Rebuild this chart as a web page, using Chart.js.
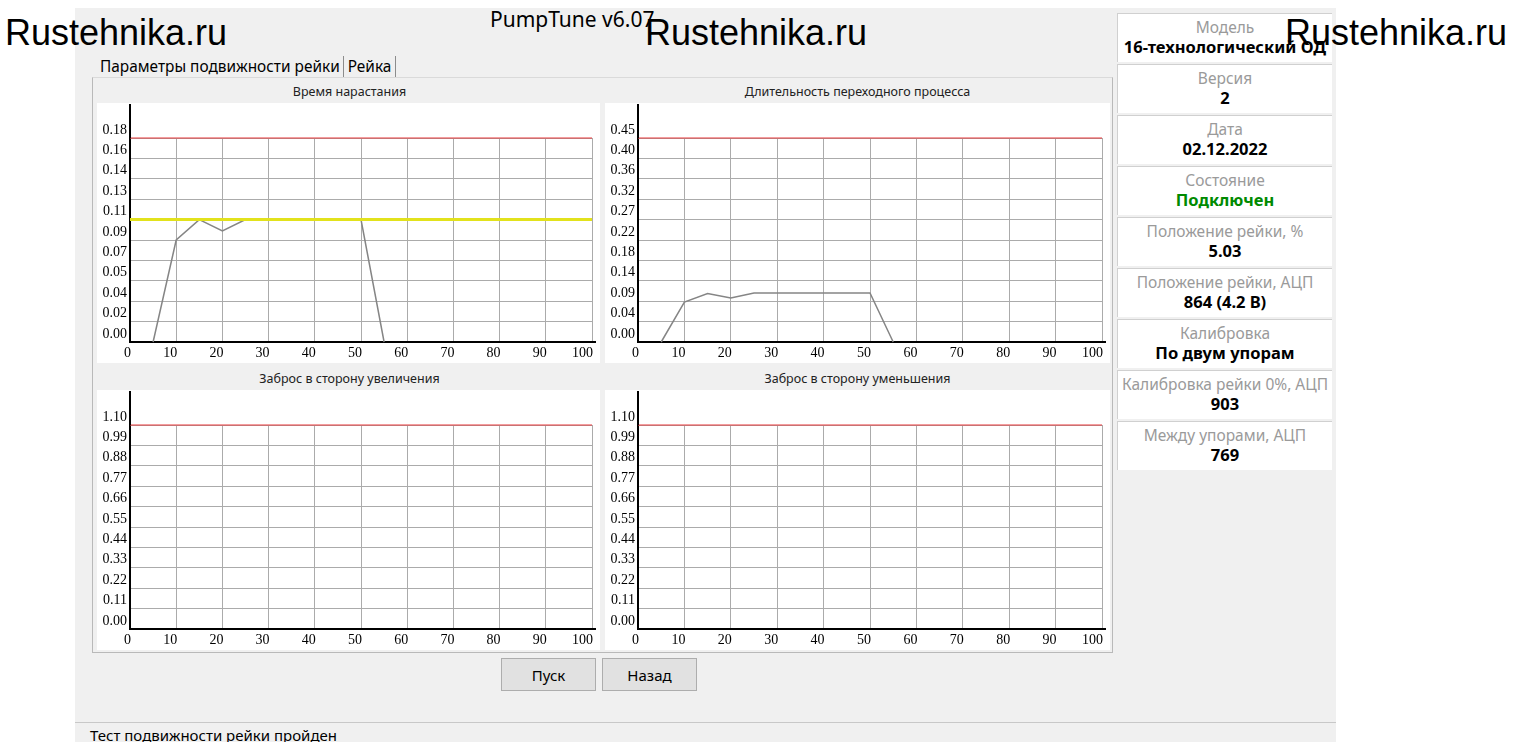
<!DOCTYPE html>
<html lang="ru">
<head>
<meta charset="utf-8">
<title>PumpTune v6.07</title>
<script src="https://cdn.jsdelivr.net/npm/chart.js@4.4.1/dist/chart.umd.min.js"></script>
<style>
  body { margin: 0; width: 1529px; height: 742px; background: #fff; position: relative; overflow: hidden;
         font-family: 'Noto Sans', sans-serif; color: #000; }
  .abs { position: absolute; }
  .app { left: 75px; top: 8px; width: 1261px; height: 734px; background: #f0f0f0; }
  .title { left: 490px; top: 5px; font-size: 21px; white-space: nowrap; }
  .mark { font-family: 'Liberation Sans', Arial, sans-serif; font-size: 36px; line-height: 36px; white-space: nowrap; }
  .tab1 { left: 100px; top: 56px; font-size: 15.4px; white-space: nowrap; }
  .tab2 { left: 343px; top: 56px; width: 51px; height: 21px; border-left: 1px solid #8c8c8c; border-right: 1px solid #8c8c8c;
          font-size: 15.4px; text-align: center; line-height: 21px; }
  .panel { left: 92px; top: 77px; width: 1019px; height: 574px; border: 1px solid #b9b9b9; border-top-color: #dadada; }
  .ctitle { font-size: 12.5px; text-align: center; width: 505px; color: #222; }
  .box { background: #fff; }
  .btn { top: 658px; width: 95px; height: 33px; background: #e1e1e1; border: 1px solid #adadad; font-size: 15px;
         text-align: center; line-height: 32px; box-sizing: border-box; }
  .status { left: 75px; top: 722px; width: 1261px; border-top: 1px solid #c8c8c8; }
  .stext { left: 90px; top: 725px; font-size: 15px; white-space: nowrap; }
  .info { left: 1117px; width: 215px; height: 49px; background: #fff; border-top: 1px solid #d0d0d0; border-left: 1px solid #d0d0d0;
          box-sizing: border-box; text-align: center; overflow: hidden; white-space: nowrap; }
  .info .l { color: #9a9a9a; font-size: 15.5px; line-height: 18px; margin-top: 4px; }
  .info .v { font-weight: bold; font-size: 16.5px; line-height: 22px; }
</style>
</head>
<body>
<div class="abs app"></div>
<div class="abs title">PumpTune v6.07</div>

<div class="abs tab1">Параметры подвижности рейки</div>
<div class="abs tab2">Рейка</div>
<div class="abs panel"></div>

<div class="abs ctitle" style="left:97px;top:83px">Время нарастания</div>
<div class="abs ctitle" style="left:605px;top:83px">Длительность переходного процесса</div>
<div class="abs ctitle" style="left:97px;top:370px">Заброс в сторону увеличения</div>
<div class="abs ctitle" style="left:605px;top:370px">Заброс в сторону уменьшения</div>

<div class="abs box" style="left:97px;top:103px;width:503px;height:260px"><canvas id="riseChart" width="503" height="260"></canvas></div>
<div class="abs box" style="left:605px;top:103px;width:505px;height:260px"><canvas id="settleChart" width="505" height="260"></canvas></div>
<div class="abs box" style="left:97px;top:390px;width:503px;height:260px"><canvas id="overUpChart" width="503" height="260"></canvas></div>
<div class="abs box" style="left:605px;top:390px;width:505px;height:260px"><canvas id="overDownChart" width="505" height="260"></canvas></div>

<div class="abs btn" style="left:501px">Пуск</div>
<div class="abs btn" style="left:602px">Назад</div>

<div class="abs status"></div>
<div class="abs stext">Тест подвижности рейки пройден</div>

<div id="infoPanel"></div>

<div class="abs mark" style="left:5px;top:15px">Rustehnika.ru</div>
<div class="abs mark" style="left:645px;top:15px">Rustehnika.ru</div>
<div class="abs mark" style="left:1285px;top:15px">Rustehnika.ru</div>

<script>
// позиции рейки, %
const positions = [5, 10, 15, 20, 25, 30, 35, 40, 45, 50, 55];
// время нарастания
const riseTime = [0, 0.09, 0.108, 0.098, 0.108, 0.108, 0.108, 0.108, 0.108, 0.108, 0];
// длительность переходного процесса
const settleTime = [0, 0.088, 0.107, 0.097, 0.108, 0.108, 0.108, 0.108, 0.108, 0.108, 0];

const riseTarget = 0.108;
const riseMax = 0.18;
const settleMax = 0.45;
const overMax = 1.10;
const limitX = [0, 100];

const riseTicks = ['0.00', '0.02', '0.04', '0.05', '0.07', '0.09', '0.11', '0.13', '0.14', '0.16', '0.18'];
const settleTicks = ['0.00', '0.04', '0.09', '0.14', '0.18', '0.22', '0.27', '0.32', '0.36', '0.40', '0.45'];
const overTicks = ['0.00', '0.11', '0.22', '0.33', '0.44', '0.55', '0.66', '0.77', '0.88', '0.99', '1.10'];

const infoLabels = ['Модель', 'Версия', 'Дата', 'Состояние', 'Положение рейки, %', 'Положение рейки, АЦП',
    'Калибровка', 'Калибровка рейки 0%, АЦП', 'Между упорами, АЦП'];
const infoValues = ['16-технологический ОД', '2', '02.12.2022', 'Подключен', '5.03', '864 (4.2 В)',
    'По двум упорам', '903', '769'];

// правая панель
document.getElementById('infoPanel').innerHTML = infoLabels.map((l, i) => `
    <div class="abs info" style="top:${13 + i * 51}px">
        <div class="l">${l}</div>
        <div class="v" style="${i === 3 ? 'color:#008a00' : ''}">${infoValues[i]}</div>
    </div>`).join('');

const gridColor = '#ababab';
const tickFont = { family: "'Liberation Serif', 'Times New Roman', serif", size: 14 };

// ось Y уходит выше последней линии сетки
const axisExtend = {
    id: 'axisExtend',
    afterDraw(chart) {
        const { ctx, chartArea, scales } = chart;
        const x0 = scales.x.getPixelForValue(0);
        const y0 = scales.y.getPixelForValue(0);
        ctx.save();
        ctx.strokeStyle = '#000';
        ctx.lineWidth = 2;
        ctx.beginPath();
        ctx.moveTo(x0, chartArea.top - 34);
        ctx.lineTo(x0, chartArea.top);
        ctx.moveTo(chartArea.right, y0);
        ctx.lineTo(chartArea.right + 4, y0);
        ctx.stroke();
        ctx.restore();
    }
};

function toPoints(xs, ys) {
    return xs.map((x, i) => ({ x: x, y: ys[i] }));
}

function criarGrafico(id, yMax, yLabels, series) {
    const datasets = [{
        data: toPoints(limitX, [yMax, yMax]),
        borderColor: '#e8393a',
        borderWidth: 1,
        order: 1
    }];
    series.forEach(s => datasets.push(s));

    new Chart(document.getElementById(id), {
        type: 'line',
        data: { datasets: datasets.map(d => Object.assign({ pointRadius: 0, clip: false, fill: false, tension: 0 }, d)) },
        plugins: [axisExtend],
        options: {
            responsive: false,
            animation: false,
            events: [],
            layout: { padding: { top: 35, right: 8, left: 0, bottom: 0 } },
            plugins: { legend: { display: false }, tooltip: { enabled: false } },
            scales: {
                x: {
                    type: 'linear',
                    min: 0,
                    max: 100,
                    afterFit: s => { s.height = 21; },
                    ticks: { stepSize: 10, align: 'end', labelOffset: 1, padding: 3, maxRotation: 0, autoSkip: false,
                             color: '#000', font: tickFont },
                    grid: { color: gridColor, drawTicks: false },
                    border: { color: '#000', width: 2 }
                },
                y: {
                    type: 'linear',
                    min: 0,
                    max: yMax,
                    afterFit: s => { s.width = 33; },
                    afterBuildTicks: s => { s.ticks = yLabels.map((t, i) => ({ value: yMax * i / (yLabels.length - 1) })); },
                    ticks: { callback: (v, i) => yLabels[i], autoSkip: false, labelOffset: -8, padding: 3,
                             color: '#000', font: tickFont },
                    grid: { color: gridColor, drawTicks: false },
                    border: { color: '#000', width: 2 }
                }
            }
        }
    });
}

criarGrafico('riseChart', riseMax, riseTicks, [
    { data: toPoints(limitX, [riseTarget, riseTarget]), borderColor: '#e2e21c', borderWidth: 3, order: 0 },
    { data: toPoints(positions, riseTime), borderColor: '#858585', borderWidth: 1.5, order: 2 }
]);
criarGrafico('settleChart', settleMax, settleTicks, [
    { data: toPoints(positions, settleTime), borderColor: '#858585', borderWidth: 1.5, order: 2 }
]);
criarGrafico('overUpChart', overMax, overTicks, []);
criarGrafico('overDownChart', overMax, overTicks, []);
</script>
</body>
</html>
